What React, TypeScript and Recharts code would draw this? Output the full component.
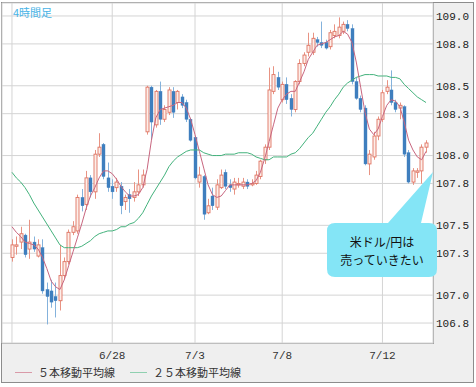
import { ComposedChart, Bar, Line, XAxis, YAxis, CartesianGrid } from 'recharts'

// 4-hour candles, USD/JPY
const openP = [
  107.27, 107.35, 107.38, 107.43, 107.33, 107.38, 107.28, 107.34, 107.04, 107.03,
  106.99, 106.96, 107.14, 107.24, 107.45, 107.46, 107.70, 107.65, 107.84, 107.74,
  108.01, 108.08, 107.84, 107.78, 107.77, 107.78, 107.67, 107.72, 107.70, 107.74,
  107.79, 108.17, 108.49, 108.22, 108.46, 108.26, 108.31, 108.46, 108.38, 108.42,
  108.38, 108.26, 108.13, 107.81, 107.85, 107.59, 107.71, 107.63, 107.77, 107.88,
  107.79, 107.76, 107.79, 107.78, 107.81, 107.79, 107.80, 107.85, 107.97, 108.06,
  108.46, 108.56, 108.40, 108.51, 108.41, 108.33, 108.53, 108.66, 108.74, 108.74,
  108.83, 108.81, 108.81, 108.78, 108.86, 108.86, 108.89, 108.94, 108.91, 108.53,
  108.41, 108.34, 107.94, 107.99, 108.14, 108.26, 108.46, 108.47, 108.38, 108.34,
  108.35, 108.02, 107.81, 107.88, 107.89, 108.06,
]
const closeP = [
  107.36, 107.36, 107.44, 107.29, 107.38, 107.33, 107.36, 107.03, 106.99, 106.95,
  106.96, 107.14, 107.24, 107.45, 107.49, 107.70, 107.64, 107.84, 107.74, 108.01,
  108.06, 107.85, 107.77, 107.74, 107.81, 107.64, 107.70, 107.69, 107.74, 107.79,
  107.86, 108.49, 108.24, 108.46, 108.26, 108.33, 108.47, 108.31, 108.46, 108.36,
  108.26, 108.11, 107.84, 107.86, 107.58, 107.64, 107.64, 107.79, 107.86, 107.78,
  107.77, 107.81, 107.80, 107.81, 107.78, 107.80, 107.86, 107.96, 108.06, 108.47,
  108.58, 108.49, 108.51, 108.40, 108.33, 108.53, 108.66, 108.72, 108.79, 108.84,
  108.81, 108.79, 108.77, 108.88, 108.89, 108.92, 108.94, 108.91, 108.53, 108.41,
  108.33, 107.94, 108.01, 108.14, 108.26, 108.45, 108.49, 108.38, 108.33, 108.36,
  108.01, 107.81, 107.89, 107.89, 108.06, 108.09,
]
const highP = [
  107.40, 107.42, 107.49, 107.44, 107.54, 107.42, 107.40, 107.40, 107.09, 107.11,
  107.09, 107.36, 107.27, 107.47, 107.53, 107.72, 107.76, 107.89, 107.86, 108.04,
  108.16, 108.09, 107.95, 107.83, 107.84, 107.81, 107.72, 107.76, 107.81, 107.90,
  107.90, 108.50, 108.50, 108.47, 108.53, 108.36, 108.49, 108.49, 108.47, 108.44,
  108.40, 108.27, 108.14, 107.92, 107.86, 107.69, 107.77, 107.83, 107.90, 107.90,
  107.83, 107.84, 107.84, 107.84, 107.83, 107.83, 107.89, 107.97, 108.08, 108.63,
  108.64, 108.60, 108.53, 108.56, 108.44, 108.54, 108.69, 108.74, 108.88, 108.88,
  108.85, 108.96, 108.83, 108.90, 108.94, 108.99, 108.96, 108.97, 108.94, 108.56,
  108.43, 108.36, 108.04, 108.17, 108.28, 108.47, 108.54, 108.61, 108.40, 108.38,
  108.36, 108.04, 107.91, 107.91, 108.08, 108.11,
]
const lowP = [
  107.24, 107.29, 107.33, 107.27, 107.26, 107.31, 107.27, 107.01, 106.79, 106.91,
  106.84, 106.89, 107.11, 107.22, 107.43, 107.44, 107.60, 107.61, 107.70, 107.69,
  107.99, 107.83, 107.74, 107.69, 107.74, 107.58, 107.61, 107.59, 107.67, 107.71,
  107.77, 108.15, 108.11, 108.20, 108.22, 108.24, 108.29, 108.27, 108.33, 108.34,
  108.24, 108.10, 107.83, 107.77, 107.54, 107.58, 107.61, 107.61, 107.76, 107.76,
  107.74, 107.72, 107.77, 107.76, 107.76, 107.78, 107.79, 107.83, 107.94, 108.04,
  108.44, 108.47, 108.38, 108.37, 108.28, 108.31, 108.51, 108.64, 108.71, 108.72,
  108.78, 108.77, 108.76, 108.76, 108.84, 108.84, 108.87, 108.89, 108.51, 108.40,
  108.31, 107.93, 107.86, 107.97, 108.11, 108.24, 108.44, 108.36, 108.31, 108.26,
  107.99, 107.80, 107.79, 107.84, 107.80, 108.02,
]
// moving averages as drawn on the chart
const ma5 = [
  107.49, 107.45, 107.42, 107.38, 107.37, 107.36, 107.33, 107.27, 107.19, 107.10,
  107.06, 107.04, 107.11, 107.21, 107.31, 107.41, 107.51, 107.62, 107.71, 107.77,
  107.84, 107.89, 107.89, 107.87, 107.83, 107.78, 107.74, 107.71, 107.71, 107.72,
  107.77, 107.90, 108.11, 108.27, 108.33, 108.34, 108.35, 108.36, 108.38, 108.38,
  108.34, 108.26, 108.15, 108.03, 107.91, 107.79, 107.72, 107.70, 107.71, 107.75,
  107.79, 107.79, 107.79, 107.79, 107.79, 107.80, 107.82, 107.88, 107.98, 108.10,
  108.22, 108.34, 108.40, 108.44, 108.46, 108.46, 108.53, 108.60, 108.69, 108.74,
  108.79, 108.80, 108.81, 108.83, 108.85, 108.86, 108.89, 108.87, 108.81, 108.67,
  108.49, 108.31, 108.19, 108.15, 108.19, 108.28, 108.36, 108.40, 108.39, 108.35,
  108.24, 108.11, 108.04, 107.99, 107.97, 108.03,
]
const ma25 = [
  107.88, 107.84, 107.81, 107.77, 107.72, 107.66, 107.61, 107.56, 107.51, 107.46,
  107.41, 107.36, 107.34, 107.34, 107.34, 107.34, 107.35, 107.37, 107.39, 107.42,
  107.44, 107.45, 107.46, 107.46, 107.47, 107.49, 107.49, 107.51, 107.52, 107.55,
  107.59, 107.65, 107.71, 107.76, 107.81, 107.86, 107.92, 107.96, 107.99, 108.01,
  108.03, 108.04, 108.04, 108.04, 108.02, 108.01, 108.00, 108.00, 108.00, 108.01,
  108.01, 108.01, 108.02, 108.02, 108.02, 108.01, 107.99, 107.98, 107.97, 107.97,
  107.99, 107.99, 107.99, 107.99, 108.01, 108.02, 108.05, 108.09, 108.13, 108.16,
  108.21, 108.26, 108.31, 108.35, 108.40, 108.44, 108.49, 108.52, 108.54, 108.56,
  108.57, 108.58, 108.58, 108.58, 108.57, 108.57, 108.57, 108.56, 108.56, 108.55,
  108.51, 108.48, 108.45, 108.42, 108.40, 108.38,
]

const xTickIdx = [0, 23, 42, 62, 85]
const xTickText = ['', '6/28', '7/3', '7/8', '7/12']
const yTicks = [109.0, 108.8, 108.5, 108.3, 108.0, 107.8, 107.5, 107.3, 107.0, 106.8]

const data = openP.map((o, i) => ({
  i,
  open: o,
  close: closeP[i],
  high: highP[i],
  low: lowP[i],
  ma5: ma5[i],
  ma25: ma25[i],
}))

const UP_STROKE = '#df7463'
const UP_FILL = '#fdeee9'
const DOWN = '#3f7fbe'
const MA5_COLOR = '#c8667f'
const MA25_COLOR = '#43b27c'
const monoFont = '"Liberation Mono", "DejaVu Sans Mono", monospace'
const jpFont = '"Noto Sans CJK JP", sans-serif'

const Candle = (props: any) => {
  const { x, y, width, height, payload } = props
  if (x == null || !payload) return null
  const { open, close, high, low } = payload
  const k = high === low ? 0 : height / (high - low)
  const cx = Math.round(x + width / 2) + 0.5
  const up = close >= open
  const top = y + (high - Math.max(open, close)) * k
  const bot = y + (high - Math.min(open, close)) * k
  return (
    <g>
      <line x1={cx} x2={cx} y1={y} y2={y + height} stroke={up ? '#e89383' : '#84b2dc'} strokeWidth={1} />
      <rect
        x={cx - 1.5}
        y={top}
        width={3}
        height={Math.max(1, bot - top)}
        fill={up ? UP_FILL : DOWN}
        stroke={up ? UP_STROKE : DOWN}
        strokeWidth={up ? 0.9 : 0.4}
      />
    </g>
  )
}

export default function App() {
  return (
    <div style={{ position: 'relative', width: 476, height: 387, background: '#fff', overflow: 'hidden' }}>
      <style>{'body{margin:0}'}</style>
      {/* frame + panels */}
      <div style={{ position: 'absolute', left: 1, top: 2, width: 473, height: 381, boxSizing: 'border-box', border: '1px solid #8c8c8c', background: '#efefef' }} />
      <div style={{ position: 'absolute', left: 2, top: 3, width: 432, height: 341, boxSizing: 'border-box', background: '#fff', borderRight: '1px solid #9a9a9a', borderBottom: '1px solid #a8a8a8' }} />

      <div style={{ position: 'absolute', left: 0, top: 0 }}>
        <ComposedChart width={476} height={387} data={data} margin={{ top: 3, right: 0, bottom: 0, left: 2 }}>
          <CartesianGrid stroke="#d4d4d4" strokeWidth={1} />
          <XAxis
            dataKey="i"
            type="category"
            ticks={xTickIdx}
            interval={0}
            tickFormatter={(v: number) => xTickText[xTickIdx.indexOf(v)] ?? ''}
            padding={{ left: 7.8, right: 4.8 }}
            axisLine={false}
            tickLine={false}
            height={44}
            tick={{ fontFamily: monoFont, fontSize: 11, fill: '#333' }}
          />
          <YAxis
            orientation="right"
            type="number"
            domain={[106.657, 109.093]}
            allowDataOverflow
            ticks={yTicks}
            interval={0}
            tickFormatter={(v: number) => v.toFixed(1)}
            axisLine={false}
            tickLine={false}
            tickSize={0}
            tickMargin={3}
            width={43}
            tick={{ fontFamily: monoFont, fontSize: 11, fill: '#222', textAnchor: 'start' }}
          />
          <Bar dataKey={(d: any) => [d.low, d.high]} barSize={4} shape={<Candle />} isAnimationActive={false} />
          <Line type="linear" dataKey="ma25" stroke={MA25_COLOR} strokeWidth={1} dot={false} isAnimationActive={false} />
          <Line type="linear" dataKey="ma5" stroke={MA5_COLOR} strokeWidth={1} dot={false} isAnimationActive={false} />
        </ComposedChart>
      </div>

      {/* title */}
      <div style={{ position: 'absolute', left: 13, top: 5, fontFamily: jpFont, fontSize: 11, color: '#47b3e6', lineHeight: '14px' }}>4時間足</div>

      {/* callout */}
      <svg width={476} height={387} style={{ position: 'absolute', left: 0, top: 0 }}>
        <path
          d="M335 223 H388 L433 172 L421 223 H429 Q437 223 437 231 V269 Q437 277 429 277 H335 Q327 277 327 269 V231 Q327 223 335 223 Z"
          fill="#84e5f6"
        />
        <text x={382} y={247} textAnchor="middle" fontFamily={jpFont} fontSize={12} fill="#111">米ドル/円は</text>
        <text x={382} y={265} textAnchor="middle" fontFamily={jpFont} fontSize={12} fill="#111">売っていきたい</text>
      </svg>

      {/* legend */}
      <div style={{ position: 'absolute', left: 15, top: 365, display: 'flex', alignItems: 'center', fontFamily: jpFont, fontSize: 11, color: '#333', lineHeight: '14px' }}>
        <span style={{ display: 'inline-block', width: 17, height: 1, background: '#d99aa8', marginRight: 6 }} />
        <span>５本移動平均線</span>
        <span style={{ display: 'inline-block', width: 17, height: 1, background: '#8fd0b0', marginLeft: 15, marginRight: 6 }} />
        <span>２５本移動平均線</span>
      </div>
    </div>
  )
}
